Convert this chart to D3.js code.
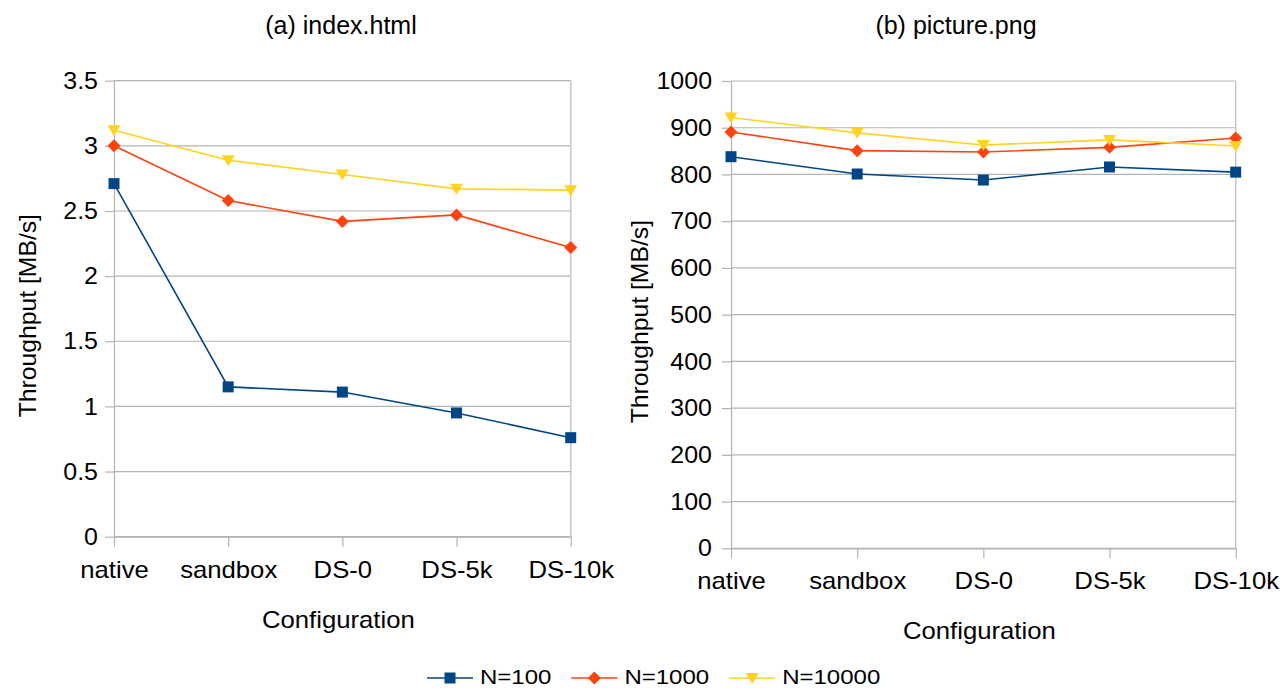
<!DOCTYPE html>
<html>
<head>
<meta charset="utf-8">
<script src="https://cdn.jsdelivr.net/npm/d3@7"></script>
<style>
  body { margin: 0; background: #fff; }
  svg { font-family: "Liberation Sans", Arial, sans-serif; }
</style>
</head>
<body>
<div id="chart"></div>
<script>
var categories = ["native", "sandbox", "DS-0", "DS-5k", "DS-10k"];
var seriesNames = ["N=100", "N=1000", "N=10000"];

// (a) index.html, MB/s
var indexN100 = [2.71, 1.15, 1.11, 0.95, 0.76];
var indexN1000 = [3.0, 2.58, 2.42, 2.47, 2.22];
var indexN10000 = [3.12, 2.89, 2.78, 2.67, 2.66];
var indexTicks = [0, 0.5, 1, 1.5, 2, 2.5, 3, 3.5];

// (b) picture.png, MB/s
var pictureN100 = [838, 801, 788, 816, 805];
var pictureN1000 = [891, 851, 848, 858, 878];
var pictureN10000 = [922, 889, 863, 874, 861];
var pictureTicks = [0, 100, 200, 300, 400, 500, 600, 700, 800, 900, 1000];

var colors = ["#004586", "#ff420e", "#ffd320"];
var shapes = ["square", "diamond", "triangle"];

var svg = d3.select("#chart").append("svg")
  .attr("width", 1283)
  .attr("height", 688);

function markerPath(shape) {
  if (shape == "square") return "M-5.5,-5.5H5.5V5.5H-5.5Z";
  if (shape == "diamond") return "M0,-6.5L6.5,0L0,6.5L-6.5,0Z";
  return "M-6.5,-5L6.5,-5L0,6Z";
}

// the original text is a bit wider than Liberation Sans at the same height
function stretch(sel, k) {
  var total = 0;
  sel.each(function() {
    var len = this.getComputedTextLength() * k;
    total += len;
    d3.select(this)
      .attr("textLength", len)
      .attr("lengthAdjust", "spacingAndGlyphs");
  });
  return total;
}

function drawPanel(p) {
  var width = p.right - p.left,
    height = p.bottom - p.top;

  var g = svg.append("g")
    .attr("transform", "translate(" + p.left + "," + p.top + ")");

  var x = d3.scalePoint().domain(categories).range([0, width]).padding(0);
  var y = d3.scaleLinear().domain([0, d3.max(p.ticks)]).range([height, 0]);

  // gridlines
  g.selectAll(".grid")
    .data(p.ticks)
    .enter()
    .append("line")
    .attr("class", "grid")
    .attr("x1", 0)
    .attr("x2", width)
    .attr("y1", function(d) { return y(d); })
    .attr("y2", function(d) { return y(d); })
    .attr("stroke", "#b3b3b3")
    .attr("stroke-width", 1.2);

  // right wall
  g.append("line")
    .attr("x1", width).attr("x2", width)
    .attr("y1", 0).attr("y2", height)
    .attr("stroke", "#c8c8c8")
    .attr("stroke-width", 1.5);

  var yAxis = g.append("g")
    .call(d3.axisLeft(y).tickValues(p.ticks).tickFormat(d3.format("")).tickSize(9).tickSizeOuter(0).tickPadding(p.yPad));

  var xAxis = g.append("g")
    .attr("transform", "translate(0," + height + ")")
    .call(d3.axisBottom(x).tickSize(10).tickSizeOuter(0).tickPadding(14));

  [yAxis, xAxis].forEach(function(a) {
    a.select(".domain").attr("stroke", "#b3b3b3").attr("stroke-width", 1.2);
    a.selectAll(".tick line").attr("stroke", "#b3b3b3").attr("stroke-width", 1.2);
    a.selectAll(".tick text").attr("fill", "#000").style("font-size", "24px").style("font-family", "Liberation Sans, Arial, sans-serif");
  });
  stretch(xAxis.selectAll(".tick text"), 1.07);
  stretch(yAxis.selectAll(".tick text"), 1.04);

  var line = d3.line()
    .x(function(d, i) { return x(categories[i]); })
    .y(function(d) { return y(d); });

  p.series.forEach(function(values, s) {
    g.append("path")
      .datum(values)
      .attr("fill", "none")
      .attr("stroke", colors[s])
      .attr("stroke-width", 1.6)
      .attr("d", line);

    g.selectAll(".m" + s)
      .data(values)
      .enter()
      .append("path")
      .attr("class", "m" + s)
      .attr("fill", colors[s])
      .attr("transform", function(d, i) {
        return "translate(" + x(categories[i]) + "," + y(d) + ")";
      })
      .attr("d", markerPath(shapes[s]));
  });

  // titles
  svg.append("text")
    .attr("x", p.titleX)
    .attr("y", 34)
    .attr("text-anchor", "middle")
    .style("font-size", "25px")
    .text(p.title);

  var xt = svg.append("text")
    .attr("x", p.left + width / 2 - 4)
    .attr("y", p.bottom + 91)
    .attr("text-anchor", "middle")
    .style("font-size", "24px")
    .text("Configuration");
  stretch(xt, 1.07);

  var yt = svg.append("text")
    .attr("transform", "translate(" + p.yLabelX + "," + (p.top + height / 2 + 7) + ") rotate(-90)")
    .attr("text-anchor", "middle")
    .style("font-size", "24px")
    .text("Throughput [MB/s]");
  stretch(yt, 1.03);
}

drawPanel({
  left: 114, right: 570.7, top: 80.7, bottom: 536.7,
  ticks: indexTicks,
  series: [indexN100, indexN1000, indexN10000],
  title: "(a) index.html", titleX: 341,
  yLabelX: 36, yPad: 7
});

drawPanel({
  left: 731, right: 1235.7, top: 81, bottom: 548.3,
  ticks: pictureTicks,
  series: [pictureN100, pictureN1000, pictureN10000],
  title: "(b) picture.png", titleX: 956,
  yLabelX: 648, yPad: 10
});

// legend
var legend = svg.append("g").attr("transform", "translate(427,678)");
var offset = 0;
seriesNames.forEach(function(name, s) {
  var item = legend.append("g").attr("transform", "translate(" + offset + ",0)");
  item.append("line")
    .attr("x1", 0).attr("x2", 46)
    .attr("stroke", colors[s])
    .attr("stroke-width", 1.6);
  item.append("path")
    .attr("transform", "translate(23,0)")
    .attr("fill", colors[s])
    .attr("d", markerPath(shapes[s]));
  var t = item.append("text")
    .attr("x", 53)
    .attr("y", 6)
    .style("font-size", "20px")
    .text(name);
  offset += 53 + stretch(t, 1.2) + 20;
});
</script>
</body>
</html>
